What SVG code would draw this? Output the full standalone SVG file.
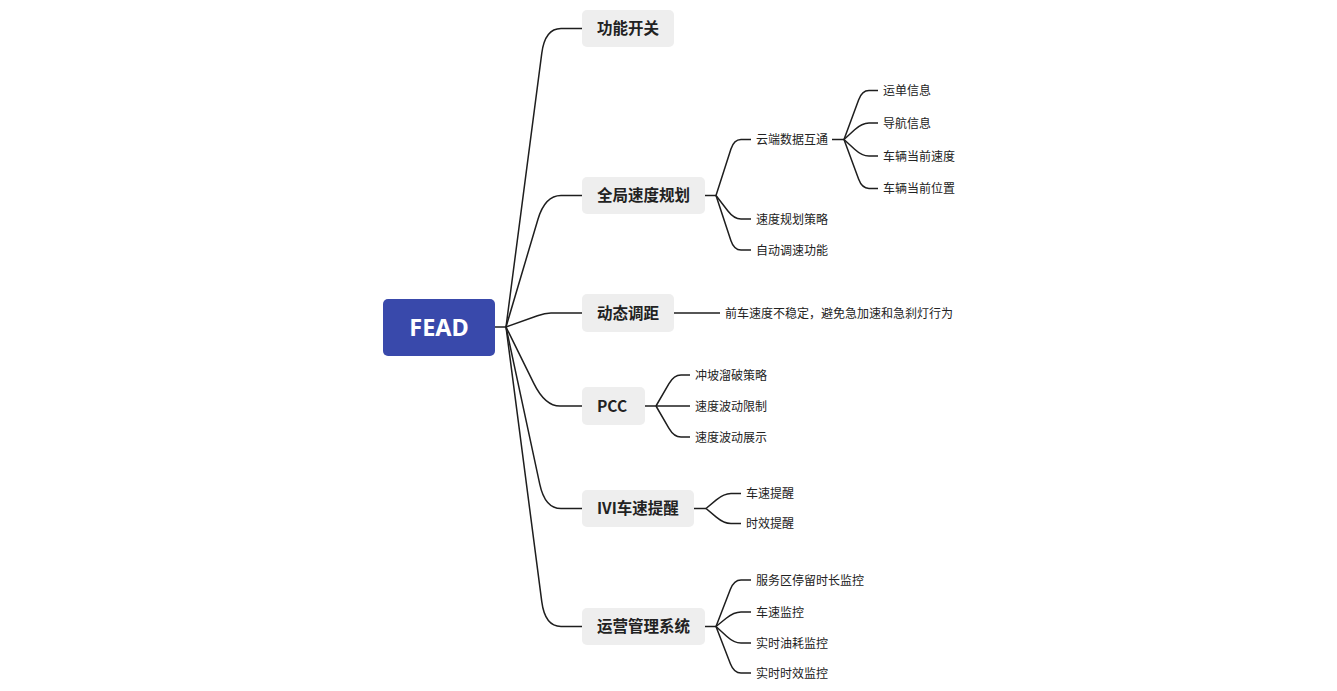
<svg xmlns="http://www.w3.org/2000/svg" width="1337" height="691" viewBox="0 0 1337 691">
<style>
.bg{fill:#ffffff}
.root rect{fill:#3949ab}
.root text{fill:#ffffff;font-family:"Noto Sans","Noto Sans CJK SC",sans-serif;font-weight:bold;font-size:23.5px;text-anchor:middle}
.l1 rect{fill:#eeeeee}
.l1 text{fill:#222222;font-family:"Noto Sans CJK SC","Noto Sans",sans-serif;font-weight:bold;font-size:15.5px}
.l2 text{fill:#222222;font-family:"Noto Sans CJK SC","Noto Sans",sans-serif;font-size:12px}
#connectors path{fill:none;stroke:#1e1e1e;stroke-width:1.5}
</style>
<rect class="bg" x="0" y="0" width="1337" height="691"/>
<g id="connectors">
<path d="M495,327 L506,327"/>
<path d="M506,327 L541.76,53.29 Q545,28.5 561,28.5 L582,28.5"/>
<path d="M506,327 L537.89,219.46 Q545,195.5 561,195.5 L582,195.5"/>
<path d="M506,327 L537.47,315.7 Q545,313 551,313 L582,313"/>
<path d="M506,327 L533.93,383.58 Q545,406 560,406 L582,406"/>
<path d="M506,327 L539.75,484.05 Q545,508.5 561,508.5 L582,508.5"/>
<path d="M506,327 L541.77,601.71 Q545,626.5 561,626.5 L582,626.5"/>
<path d="M705,195.5 L716,195.5"/>
<path d="M716,195.5 L730.94,149.02 Q734,139.5 741,139.5 L751,139.5"/>
<path d="M716,195.5 L727.92,211.06 Q734,219 741,219 L751,219"/>
<path d="M716,195.5 L730.86,240.5 Q734,250 741,250 L751,250"/>
<path d="M832,139.5 L844,139.5"/>
<path d="M844,139.5 L858.58,99.9 Q862,90.5 869,90.5 L878,90.5"/>
<path d="M844,139.5 L854.63,129.76 Q862,123 869,123 L878,123"/>
<path d="M844,139.5 L854.63,149.24 Q862,156 869,156 L878,156"/>
<path d="M844,139.5 L858.58,179.1 Q862,188.5 869,188.5 L878,188.5"/>
<path d="M674,313 L720,313"/>
<path d="M645,406 L656,406"/>
<path d="M656,406 L668.98,383.65 Q674,375 681,375 L690,375"/>
<path d="M656,406 L690,406"/>
<path d="M656,406 L668.98,428.35 Q674,437 681,437 L690,437"/>
<path d="M694,508.5 L706,508.5"/>
<path d="M706,508.5 L716.32,499.9 Q724,493.5 731,493.5 L741,493.5"/>
<path d="M706,508.5 L716.32,517.1 Q724,523.5 731,523.5 L741,523.5"/>
<path d="M705,626.5 L716,626.5"/>
<path d="M716,626.5 L730.39,589.33 Q734,580 741,580 L751,580"/>
<path d="M716,626.5 L726.21,618.27 Q734,612 741,612 L751,612"/>
<path d="M716,626.5 L726.63,636.24 Q734,643 741,643 L751,643"/>
<path d="M716,626.5 L730.39,663.67 Q734,673 741,673 L751,673"/>
</g>
<g id="root" class="root">
<rect x="383" y="299" width="112" height="57" rx="5"/>
<text x="439" y="336">FEAD</text>
</g>
<g id="n-gongneng" class="l1">
<rect x="582" y="10" width="92" height="37" rx="5"/>
<text x="597" y="34">功能开关</text>
</g>
<g id="n-quanju" class="l1">
<rect x="582" y="177" width="123" height="37" rx="5"/>
<text x="597" y="201">全局速度规划</text>
</g>
<g id="n-dongtai" class="l1">
<rect x="582" y="294" width="92" height="38" rx="5"/>
<text x="597" y="318.5">动态调距</text>
</g>
<g id="n-pcc" class="l1">
<rect x="582" y="387" width="63" height="38" rx="5"/>
<text x="597" y="411.5">PCC</text>
</g>
<g id="n-ivi" class="l1">
<rect x="582" y="490" width="112" height="37" rx="5"/>
<text x="597" y="514">IVI车速提醒</text>
</g>
<g id="n-yunying" class="l1">
<rect x="582" y="608" width="123" height="37" rx="5"/>
<text x="597" y="632">运营管理系统</text>
</g>
<g id="n-yunduan" class="l2"><text x="756" y="144">云端数据互通</text></g>
<g id="n-yundan" class="l2"><text x="883" y="95">运单信息</text></g>
<g id="n-daohang" class="l2"><text x="883" y="127.5">导航信息</text></g>
<g id="n-sudu" class="l2"><text x="883" y="160.5">车辆当前速度</text></g>
<g id="n-weizhi" class="l2"><text x="883" y="193">车辆当前位置</text></g>
<g id="n-celue" class="l2"><text x="756" y="223.5">速度规划策略</text></g>
<g id="n-zidong" class="l2"><text x="756" y="254.5">自动调速功能</text></g>
<g id="n-qianche" class="l2"><text x="725" y="317.5">前车速度不稳定，避免急加速和急刹灯行为</text></g>
<g id="n-chongpo" class="l2"><text x="695" y="379.5">冲坡溜破策略</text></g>
<g id="n-xianzhi" class="l2"><text x="695" y="410.5">速度波动限制</text></g>
<g id="n-zhanshi" class="l2"><text x="695" y="441.5">速度波动展示</text></g>
<g id="n-chesu" class="l2"><text x="746" y="498">车速提醒</text></g>
<g id="n-shixiao" class="l2"><text x="746" y="528">时效提醒</text></g>
<g id="n-fuwuqu" class="l2"><text x="756" y="584.5">服务区停留时长监控</text></g>
<g id="n-chesujk" class="l2"><text x="756" y="616.5">车速监控</text></g>
<g id="n-youhao" class="l2"><text x="756" y="647.5">实时油耗监控</text></g>
<g id="n-shixiaojk" class="l2"><text x="756" y="677.5">实时时效监控</text></g>
</svg>
